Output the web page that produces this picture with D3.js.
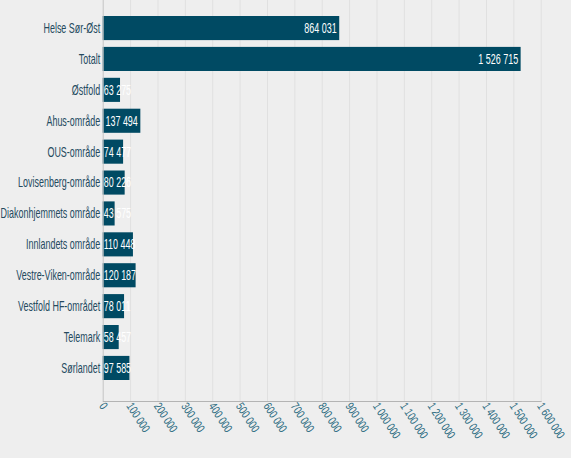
<!DOCTYPE html>
<html><head><meta charset="utf-8">
<script src="https://cdn.jsdelivr.net/npm/d3@7"></script>
<style>
html,body{margin:0;padding:0;background:#eeeeee;}
svg{display:block;}
text{font-family:"Liberation Sans",Arial,sans-serif;}
</style></head>
<body>
<svg id="chart" width="571" height="458"></svg>
<script>
const categories = ["Helse Sør-Øst","Totalt","Østfold","Ahus-område","OUS-område","Lovisenberg-område","Diakonhjemmets område","Innlandets område","Vestre-Viken-område","Vestfold HF-området","Telemark","Sørlandet"];
const values = [864031,1526715,63275,137494,74477,80226,43575,110448,120187,78011,58457,97585];
const tickValues = [0,100000,200000,300000,400000,500000,600000,700000,800000,900000,1000000,1100000,1200000,1300000,1400000,1500000,1600000];

const fmt = v => d3.format(",")(v).replace(/,/g, " ");
const SX = 0.64;   // horizontal condensing of text (narrow font look)
const TSX = 0.75;
const svg = d3.select("#chart");
const x = d3.scaleLinear().domain([0,1600000]).range([102.7,540.7]);
const y = d3.scaleBand().domain(categories).range([12.6,383.4]).paddingInner(0.22).paddingOuter(0.11);
const axisY = 401;

// gridlines
svg.append("g").selectAll("line").data(tickValues.slice(1)).join("line")
  .attr("x1",d=>x(d)+0.5).attr("x2",d=>x(d)+0.5).attr("y1",0).attr("y2",axisY)
  .attr("stroke","#e0e0e0").attr("stroke-width",1);

// bars
svg.append("g").selectAll("rect").data(categories).join("rect")
  .attr("x",x(0)).attr("y",d=>y(d)).attr("height",y.bandwidth())
  .attr("width",(d,i)=>x(values[i])-x(0)).attr("fill","#004a63");

// value labels
svg.append("g").selectAll("text").data(categories).join("text")
  .attr("x",0).attr("y",0).attr("dy","0.35em")
  .attr("fill","#ffffff").attr("font-size",14)
  .text((d,i)=>fmt(values[i]))
  .each(function(d,i){
    const w = this.getComputedTextLength()*SX;
    const end = x(values[i]) - 2.5;
    const start = Math.max(x(0)+1, end - w);
    d3.select(this).attr("transform",`translate(${start},${y(d)+y.bandwidth()/2}) scale(${SX},1)`);
  });

// left axis line
svg.append("line").attr("x1",x(0)+0.5).attr("x2",x(0)+0.5).attr("y1",0).attr("y2",axisY)
  .attr("stroke","#c4c4c4");
// bottom axis line
svg.append("line").attr("x1",x(0)).attr("x2",x(1600000)+1).attr("y1",axisY+0.5).attr("y2",axisY+0.5)
  .attr("stroke","#b4b4b4");

// category labels
svg.append("g").selectAll("text").data(categories).join("text")
  .attr("transform",d=>`translate(${x(0)-2.5},${y(d)+y.bandwidth()/2}) scale(${SX},1)`)
  .attr("dy","0.35em")
  .attr("text-anchor","end").attr("fill","#244a5e").attr("font-size",14)
  .text(d=>d);

// x tick labels rotated
svg.append("g").selectAll("text").data(tickValues).join("text")
  .attr("transform",d=>`translate(${x(d)-4},${axisY+5}) rotate(57) scale(${TSX},1)`)
  .attr("text-anchor","start").attr("fill","#2a6a80").attr("font-size",12)
  .text(d=>fmt(d));
</script>
</body></html>
